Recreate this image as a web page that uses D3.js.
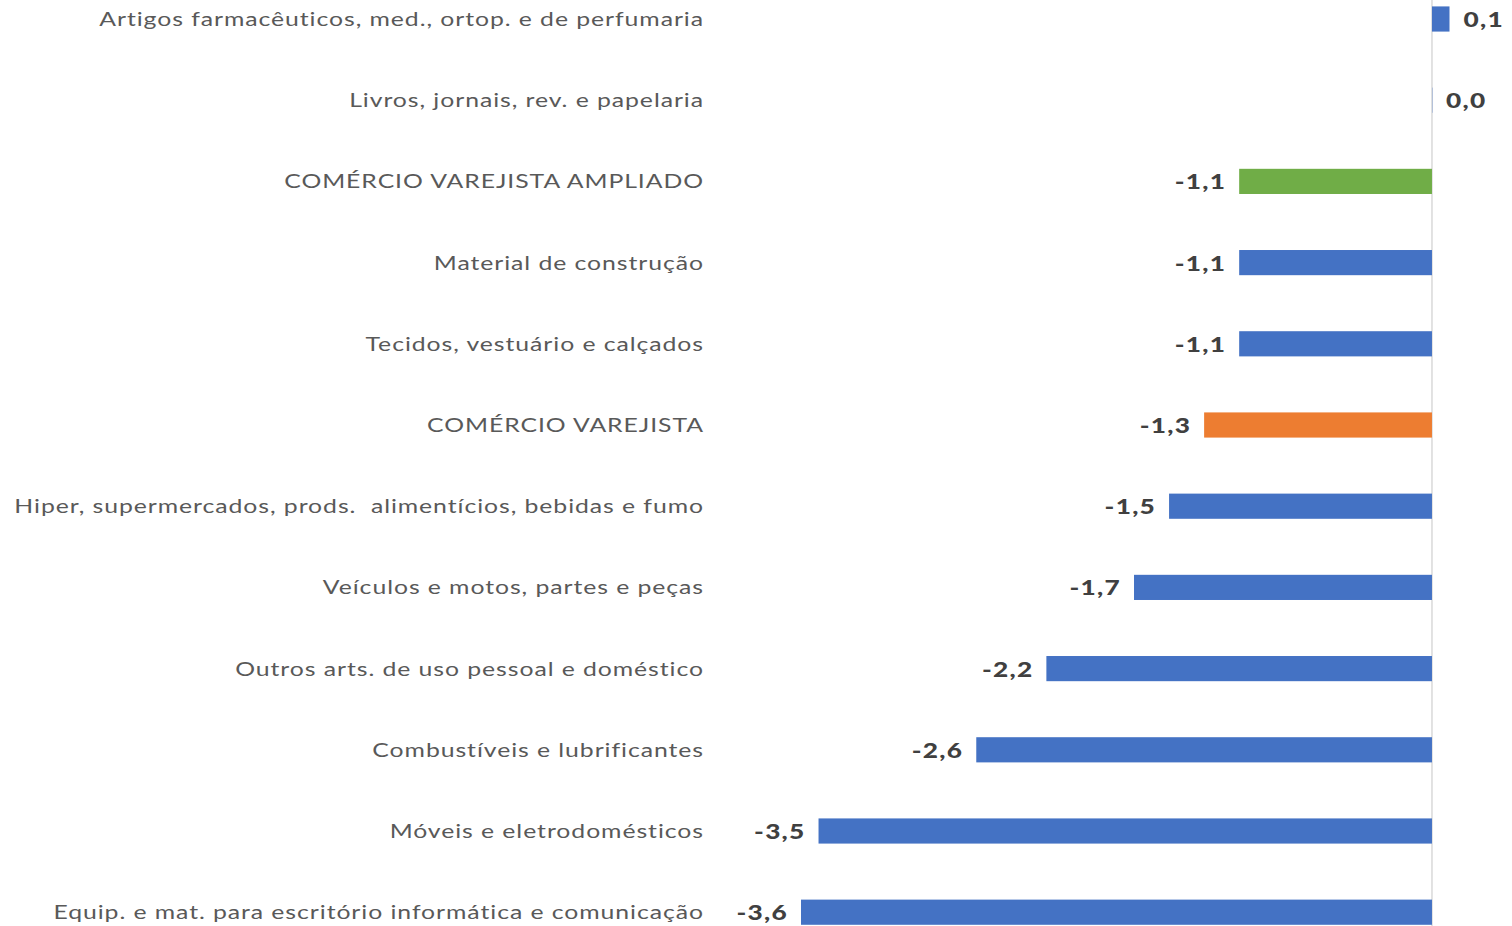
<!DOCTYPE html>
<html>
<head>
<meta charset="utf-8">
<script src="https://cdn.jsdelivr.net/npm/d3@7"></script>
<style>
  body { margin: 0; background: #fff; }
  svg { display: block; }
  text { white-space: pre; }
</style>
</head>
<body>
<script>
// categories, top to bottom
var categories = [
  "Artigos farmacêuticos, med., ortop. e de perfumaria",
  "Livros, jornais, rev. e papelaria",
  "COMÉRCIO VAREJISTA AMPLIADO",
  "Material de construção",
  "Tecidos, vestuário e calçados",
  "COMÉRCIO VAREJISTA",
  "Hiper, supermercados, prods.  alimentícios, bebidas e fumo",
  "Veículos e motos, partes e peças",
  "Outros arts. de uso pessoal e doméstico",
  "Combustíveis e lubrificantes",
  "Móveis e eletrodomésticos",
  "Equip. e mat. para escritório informática e comunicação"
];
var values = [0.1, 0.0, -1.1, -1.1, -1.1, -1.3, -1.5, -1.7, -2.2, -2.6, -3.5, -3.6];
var highlight = { "COMÉRCIO VAREJISTA AMPLIADO": "#70ad47", "COMÉRCIO VAREJISTA": "#ed7d31" };

var w = 1512, h = 926;

var svg = d3.select("body").append("svg")
  .attr("width", w)
  .attr("height", h);

//scales
var x = d3.scaleLinear()
  .domain([-3.6, 0.1])
  .range([801, 1449.5]);

var y = d3.scaleBand()
  .domain(categories)
  .range([-21.6, 952.8])
  .paddingInner(0.69)
  .paddingOuter(0.345);

var data = categories.map(function(c, i) { return {cat: c, val: values[i]}; });

//zero line
svg.append("line")
  .attr("x1", x(0)).attr("x2", x(0))
  .attr("y1", 0).attr("y2", h)
  .attr("stroke", "#d9d9d9")
  .attr("stroke-width", 1.5);

//bars
svg.selectAll("rect.bar")
  .data(data)
  .enter().append("rect")
  .attr("class", "bar")
  .attr("x", function(d) { return x(Math.min(0, d.val)); })
  .attr("y", function(d) { return y(d.cat); })
  .attr("width", function(d) { return Math.max(Math.abs(x(d.val) - x(0)), d.val === 0 ? 1 : 0); })
  .attr("height", y.bandwidth())
  .attr("fill", function(d) { return highlight[d.cat] || "#4472c4"; })
  .attr("opacity", function(d) { return d.val === 0 ? 0.3 : 1; });

//category labels (stretched horizontally like the original)
svg.selectAll("text.cat")
  .data(data)
  .enter().append("text")
  .attr("class", "cat")
  .attr("transform", function(d) {
    return "translate(704," + (y(d.cat) + y.bandwidth() / 2) + ") scale(1.24,1)";
  })
  .attr("dy", "0.35em")
  .attr("text-anchor", "end")
  .style("font-family", "Lato, 'Open Sans', sans-serif")
  .style("font-size", "20px")
  .style("letter-spacing", "0.75px")
  .attr("fill", "#595959")
  .text(function(d) { return d.cat; });

//value labels
var fmt = function(v) { return v.toFixed(1).replace(".", ","); };
svg.selectAll("text.val")
  .data(data)
  .enter().append("text")
  .attr("class", "val")
  .attr("transform", function(d) {
    var tx = d.val < 0 ? x(d.val) - 13 : x(d.val) + 14;
    return "translate(" + tx + "," + (y(d.cat) + y.bandwidth() / 2) + ") scale(1.25,1)";
  })
  .attr("dy", "0.38em")
  .attr("text-anchor", function(d) { return d.val < 0 ? "end" : "start"; })
  .style("font-family", "Lato, 'Open Sans', sans-serif")
  .style("font-size", "21px")
  .style("font-weight", "900")
  .style("letter-spacing", "1px")
  .attr("fill", "#404040")
  .text(function(d) { return fmt(d.val); });
</script>
</body>
</html>
